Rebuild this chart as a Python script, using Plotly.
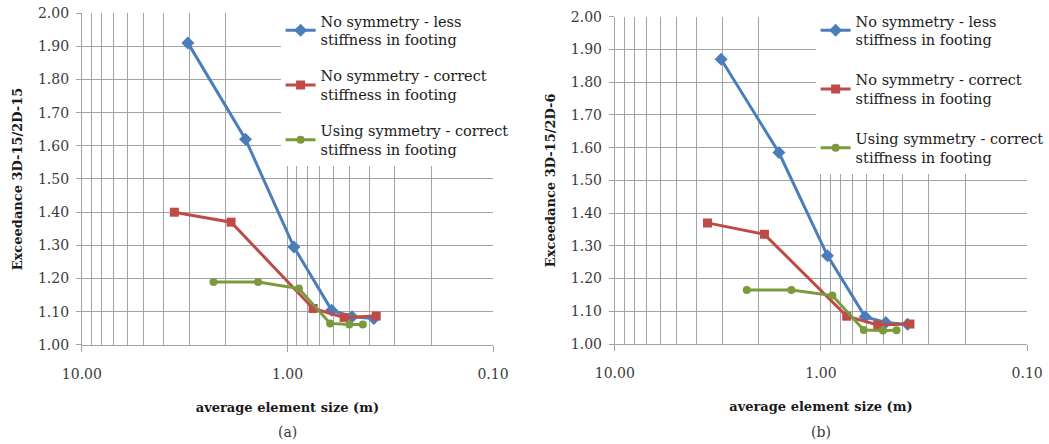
import plotly.graph_objects as go

# Average element size (m) for each model series
size_less = [3.05, 1.60, 0.93, 0.61, 0.485, 0.38]
size_correct = [3.55, 1.88, 0.75, 0.53, 0.37]
size_sym = [2.29, 1.39, 0.88, 0.62, 0.50, 0.43]

# Exceedance ratio 3D-15 / 2D-15  (panel a)
a_less = [1.91, 1.62, 1.295, 1.105, 1.085, 1.08]
a_correct = [1.40, 1.37, 1.11, 1.083, 1.087]
a_sym = [1.19, 1.19, 1.17, 1.065, 1.062, 1.062]

# Exceedance ratio 3D-15 / 2D-6  (panel b)
b_less = [1.87, 1.585, 1.27, 1.083, 1.066, 1.06]
b_correct = [1.37, 1.335, 1.085, 1.058, 1.061]
b_sym = [1.165, 1.165, 1.148, 1.043, 1.041, 1.042]

series_names = [
    "No symmetry - less<br>stiffness in footing",
    "No symmetry - correct<br>stiffness in footing",
    "Using symmetry - correct<br>stiffness in footing",
]
x_major = [10, 1, 0.1]
x_major_text = ["10.00", "1.00", "0.10"]
x_minor = [9, 8, 7, 6, 5, 4, 3, 2, 0.9, 0.8, 0.7, 0.6, 0.5, 0.4, 0.3, 0.2]
panel_tags = ["(a)", "(b)"]
y_titles = ["Exceedance 3D-15/2D-15", "Exceedance 3D-15/2D-6"]
x_title = "average element size (m)"

colors = ["#4a7ebb", "#be4b48", "#7a9a3c"]
symbols = ["diamond", "square", "circle"]
msizes = [10, 9, 8]

FONT = "DejaVu Serif"
GRID = "#a3a3a3"
TXT = "#3a3a3a"

fig = go.Figure()

panels = [
    ("x", "y", "legend", [a_less, a_correct, a_sym]),
    ("x2", "y2", "legend2", [b_less, b_correct, b_sym]),
]
sizes = [size_less, size_correct, size_sym]

for xa, ya, lg, vals in panels:
    for i in range(3):
        fig.add_trace(go.Scatter(
            x=sizes[i], y=vals[i], xaxis=xa, yaxis=ya,
            mode="lines+markers", name=series_names[i],
            legend=lg, legendgroup=f"{lg}{i}",
            line=dict(color=colors[i], width=3),
            marker=dict(symbol=symbols[i], size=msizes[i], color=colors[i]),
        ))

xdoms = [[0.0782, 0.4709], [0.5872, 0.981]]
ydoms = [[0.223, 0.9707], [0.2252, 0.9624]]

axis_common = dict(
    showline=True, linecolor=GRID, linewidth=1,
    gridcolor=GRID, gridwidth=1, automargin=False,
    tickfont=dict(family=FONT, size=14, color=TXT),
    ticks="outside", tickcolor=GRID, ticklen=5,
    zeroline=False,
)

for k, (xname, yname) in enumerate([("xaxis", "yaxis"), ("xaxis2", "yaxis2")]):
    yref = "y" if k == 0 else "y2"
    xref = "x" if k == 0 else "x2"
    fig.update_layout(**{
        xname: dict(
            axis_common, type="log", range=[1, -1], domain=xdoms[k],
            anchor=yref, tickmode="array", tickvals=x_major,
            ticktext=x_major_text, ticklen=6, ticklabelstandoff=10,
            minor=dict(tickmode="array", tickvals=x_minor, showgrid=True,
                       gridcolor=GRID, gridwidth=1, ticks="outside",
                       ticklen=0, tickcolor=GRID),
            title=dict(text=x_title, standoff=22,
                       font=dict(family=FONT, size=13, color="#1a1a1a",
                                 weight="bold")),
        ),
        yname: dict(
            axis_common, range=[1.0, 2.0], domain=ydoms[k], anchor=xref,
            dtick=0.1, tick0=1.0, tickformat=".2f", ticklabelstandoff=4,
            title=dict(text=y_titles[k], standoff=12,
                       font=dict(family=FONT, size=13, color="#1a1a1a",
                                 weight="bold")),
        ),
    })

for k in range(2):
    fig.add_annotation(
        text=panel_tags[k], xref="paper", yref="paper",
        x=sum(xdoms[k]) / 2, y=(444 - 432) / 444,
        xanchor="center", yanchor="middle", showarrow=False,
        font=dict(family=FONT, size=14, color=TXT),
    )

legend_common = dict(
    bgcolor="white", borderwidth=0,
    font=dict(family=FONT, size=14.5, color="#1a1a1a"),
    yanchor="top", xanchor="left", y=1 - 5 / 444,
    tracegroupgap=14, itemwidth=30,
)

fig.update_layout(
    width=1049, height=444,
    margin=dict(l=0, r=0, t=0, b=0),
    paper_bgcolor="white", plot_bgcolor="white",
    showlegend=True,
    legend=dict(legend_common, x=0.268),
    legend2=dict(legend_common, x=0.779, tracegroupgap=18),
)

fig.write_html("out.html")
